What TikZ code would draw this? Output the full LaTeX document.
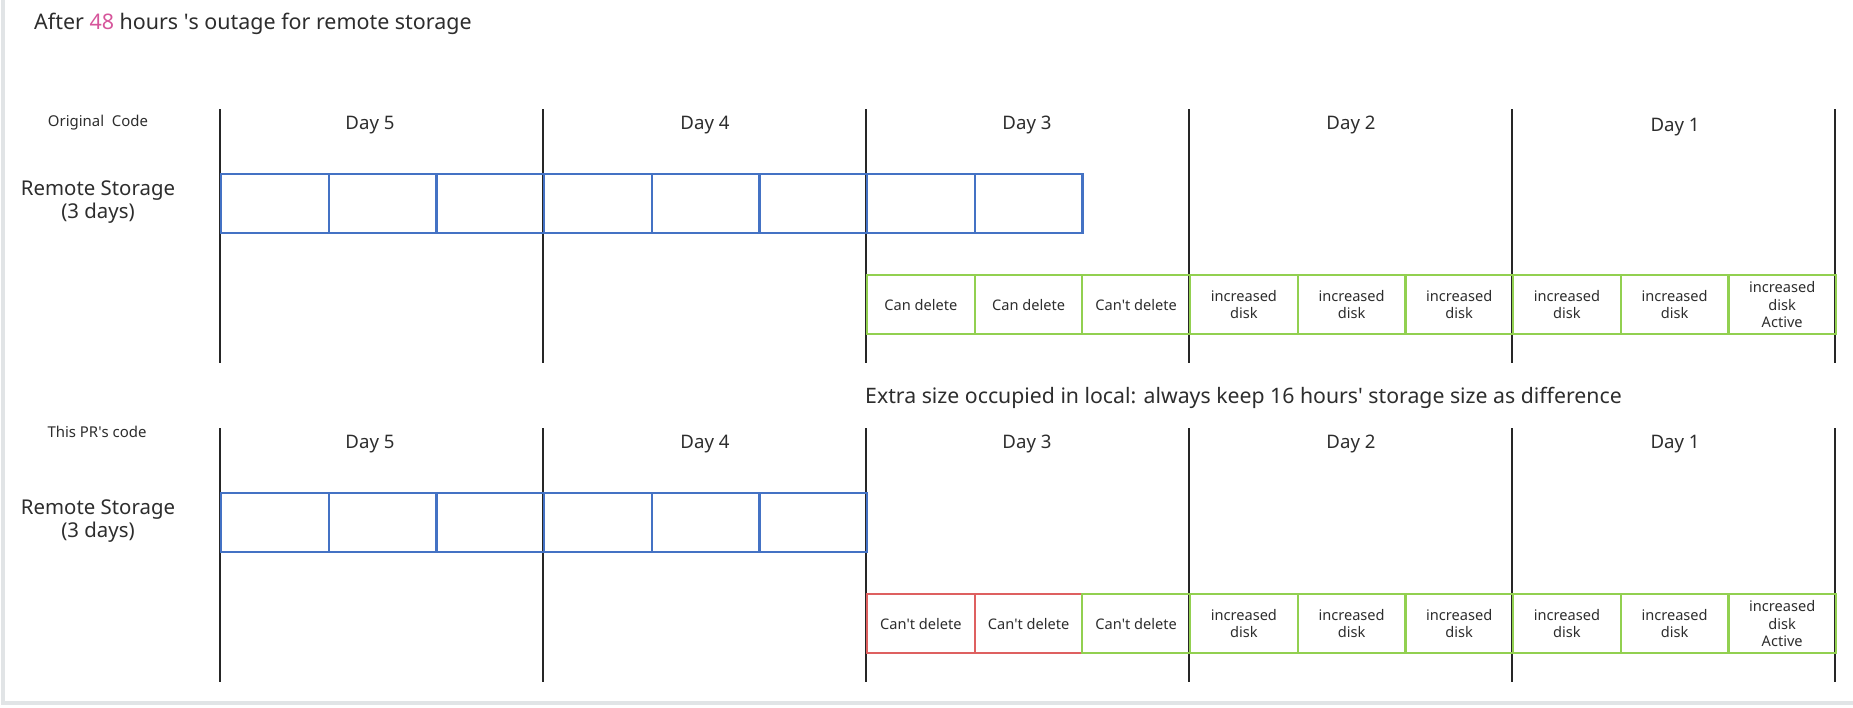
\documentclass[tikz,border=0pt]{standalone}
\usepackage{fontspec}
\setmainfont{Noto Sans}
\usepackage{tikz}
\usepackage{xcolor}
\usetikzlibrary{positioning}

\definecolor{txtgray}{RGB}{45,45,45}
\definecolor{pinknum}{RGB}{214,85,155}
\definecolor{remoteblue}{RGB}{68,114,196}
\definecolor{localgreen}{RGB}{146,208,80}
\definecolor{keepred}{RGB}{222,96,96}
\definecolor{framegray}{RGB}{225,228,230}

\newcommand{\sq}{\textquotesingle}

\tikzset{
    cell/.style={draw, line width=1.2pt, minimum width=2.154cm, minimum height=1.18cm,
        inner sep=0pt, anchor=north west, align=center, text=txtgray,
        font=\fontsize{8.3}{9.8}\selectfont},
    remote/.style={cell, draw=remoteblue, line width=1.3pt},
    local/.style={cell, draw=localgreen},
    kept/.style={cell, draw=keepred},
    daylabel/.style={text=txtgray, font=\fontsize{10.6}{12}\selectfont},
    rowlabel/.style={text=txtgray, align=center, font=\fontsize{11.6}{13.5}\selectfont},
    codelabel/.style={text=txtgray, font=\fontsize{8.5}{10}\selectfont},
    daysep/.style={line width=1.1pt, black!85}
}

\begin{document}
\begin{tikzpicture}[x=0.02cm, y=-0.02cm]
        \useasboundingbox (0,0) rectangle (1853,707);
        \draw[framegray, line width=2pt] (3,0) -- (3,703) -- (1853,703);

        \node[anchor=west, text=txtgray, font=\fontsize{12.2}{14}\selectfont] (title) at (28,24)
            {After {\color{pinknum}48} hours \sq s outage for remote storage};

        % original code
        \node[codelabel] (orig) at (98,123) {Original\ \ Code};
        \node[rowlabel] (origremote) at (98,202) {Remote Storage\\(3 days)};
        \draw[daysep] (220,109) -- (220,363)
            (543,109) -- (543,363)
            (866,109) -- (866,363)
            (1189,109) -- (1189,363)
            (1512,109) -- (1512,363)
            (1835,109) -- (1835,363);
        \node[daylabel] (od5) at (370,125) {Day 5};
        \node[daylabel] (od4) at (705,125) {Day 4};
        \node[daylabel] (od3) at (1027,125) {Day 3};
        \node[daylabel] (od2) at (1351,125) {Day 2};
        \node[daylabel] (od1) at (1675,127) {Day 1};

        \node[remote] (o1) at (220,173) {};
        \node[remote] (o2) at (327.7,173) {};
        \node[remote] (o3) at (435.3,173) {};
        \node[remote] (o4) at (543,173) {};
        \node[remote] (o5) at (650.7,173) {};
        \node[remote] (o6) at (758.3,173) {};
        \node[remote] (o7) at (866,173) {};
        \node[remote] (o8) at (973.7,173) {};

        \node[local] (ol1) at (866,274) {Can delete};
        \node[local] (ol2) at (973.7,274) {Can delete};
        \node[local] (ol3) at (1081.3,274) {Can\sq t delete};
        \node[local] (ol4) at (1189,274) {increased\\disk};
        \node[local] (ol5) at (1296.7,274) {increased\\disk};
        \node[local] (ol6) at (1404.3,274) {increased\\disk};
        \node[local] (ol7) at (1512,274) {increased\\disk};
        \node[local] (ol8) at (1619.7,274) {increased\\disk};
        \node[local] (ol9) at (1727.3,274) {increased\\disk\\Active};

        \node[anchor=west, text=txtgray, font=\fontsize{12.1}{14}\selectfont] (extra) at (859,398)
            {Extra size occupied in local: always keep 16 hours\sq\ storage size as difference};

        % this PR's code
        \node[codelabel] (pr) at (97,432) {This PR\sq s code};
        \node[rowlabel] (prremote) at (98,521) {Remote Storage\\(3 days)};
        \draw[daysep] (220,428) -- (220,682)
            (543,428) -- (543,682)
            (866,428) -- (866,682)
            (1189,428) -- (1189,682)
            (1512,428) -- (1512,682)
            (1835,428) -- (1835,682);
        \node[daylabel] (pd5) at (370,444) {Day 5};
        \node[daylabel] (pd4) at (705,444) {Day 4};
        \node[daylabel] (pd3) at (1027,444) {Day 3};
        \node[daylabel] (pd2) at (1351,444) {Day 2};
        \node[daylabel] (pd1) at (1675,444) {Day 1};

        \node[remote] (p1) at (220,492) {};
        \node[remote] (p2) at (327.7,492) {};
        \node[remote] (p3) at (435.3,492) {};
        \node[remote] (p4) at (543,492) {};
        \node[remote] (p5) at (650.7,492) {};
        \node[remote] (p6) at (758.3,492) {};

        \node[kept] (pl1) at (866,593) {Can\sq t delete};
        \node[kept] (pl2) at (973.7,593) {Can\sq t delete};
        \node[local] (pl3) at (1081.3,593) {Can\sq t delete};
        \node[local] (pl4) at (1189,593) {increased\\disk};
        \node[local] (pl5) at (1296.7,593) {increased\\disk};
        \node[local] (pl6) at (1404.3,593) {increased\\disk};
        \node[local] (pl7) at (1512,593) {increased\\disk};
        \node[local] (pl8) at (1619.7,593) {increased\\disk};
        \node[local] (pl9) at (1727.3,593) {increased\\disk\\Active};
    \end{tikzpicture}
\end{document}
